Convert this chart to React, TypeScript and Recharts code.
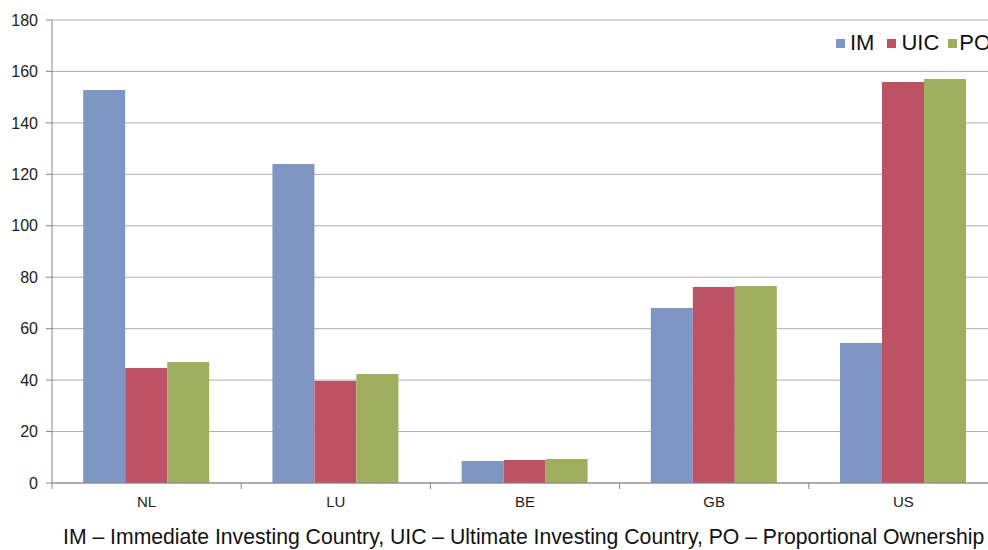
import { Bar, BarChart, CartesianGrid, XAxis, YAxis } from "recharts";

const countries = ["NL", "LU", "BE", "GB", "US"];
const imValues = [152.8, 124.0, 8.6, 68.0, 54.4];
const uicValues = [44.7, 39.7, 8.9, 76.2, 155.9];
const poValues = [47.0, 42.4, 9.3, 76.6, 157.1];
const yTicks = [0, 20, 40, 60, 80, 100, 120, 140, 160, 180];
const footnote =
  "IM \u2013 Immediate Investing Country, UIC \u2013 Ultimate Investing Country, PO \u2013 Proportional Ownership";

const seriesInfo = [
  { key: "IM", color: "#7F96C5" },
  { key: "UIC", color: "#BC5264" },
  { key: "PO", color: "#9FAF5F" },
];

const data = countries.map((name, i) => ({
  name,
  IM: imValues[i],
  UIC: uicValues[i],
  PO: poValues[i],
}));

const CHART_W = 1000;
const AXIS_W = 52;
const MARGIN_R = 2;
const band = (CHART_W - AXIS_W - MARGIN_R) / countries.length;
const font = "'Liberation Sans', Arial, sans-serif";

function CategoryTick(props: any) {
  const { x, y, payload } = props;
  const left = x - band / 2;
  return (
    <g>
      <line x1={left} x2={left} y1={y - 8} y2={y - 2} stroke="#868686" />
      {payload.index === countries.length - 1 && (
        <line x1={left + band} x2={left + band} y1={y - 8} y2={y - 2} stroke="#868686" />
      )}
      <text x={x} y={y + 16} textAnchor="middle" fontSize={15} fill="#222" fontFamily={font}>
        {payload.value}
      </text>
    </g>
  );
}

function LegendBox() {
  return (
    <div
      style={{
        position: "absolute",
        left: 836,
        top: 30,
        display: "flex",
        alignItems: "center",
        fontFamily: font,
        fontSize: 22,
        color: "#111",
        whiteSpace: "nowrap",
      }}
    >
      {seriesInfo.map((s) => (
        <span key={s.key} style={{ display: "inline-flex", alignItems: "center", marginRight: s.key === "IM" ? 13 : 9 }}>
          <span style={{ width: 9, height: 9, background: s.color, display: "inline-block", marginRight: s.key === "PO" ? 2 : 5 }} />
          {s.key}
        </span>
      ))}
    </div>
  );
}

export default function App() {
  return (
    <div style={{ position: "absolute", left: 0, top: 0, width: 988, height: 550, overflow: "hidden", background: "#fff" }}>
      <BarChart
        width={CHART_W}
        height={520}
        data={data}
        margin={{ top: 20, right: MARGIN_R, left: 0, bottom: 7 }}
        barGap={0}
        barCategoryGap="16.5%"
      >
        <CartesianGrid vertical={false} stroke="#ADADAD" />
        <XAxis
          dataKey="name"
          height={30}
          axisLine={{ stroke: "#868686" }}
          tickLine={false}
          tick={<CategoryTick />}
          interval={0}
        />
        <YAxis
          width={AXIS_W}
          domain={[0, 180]}
          ticks={yTicks}
          interval={0}
          axisLine={{ stroke: "#868686" }}
          tickLine={{ stroke: "#868686" }}
          tickSize={6}
          tickMargin={8}
          tick={{ fontSize: 16, fill: "#222", fontFamily: font }}
        />
        {seriesInfo.map((s) => (
          <Bar key={s.key} dataKey={s.key} fill={s.color} isAnimationActive={false} />
        ))}
      </BarChart>
      <LegendBox />
      <div
        style={{
          position: "absolute",
          left: 63,
          top: 525,
          fontFamily: font,
          fontSize: 21.2,
          color: "#111",
          whiteSpace: "nowrap",
        }}
      >
        {footnote}
      </div>
    </div>
  );
}
